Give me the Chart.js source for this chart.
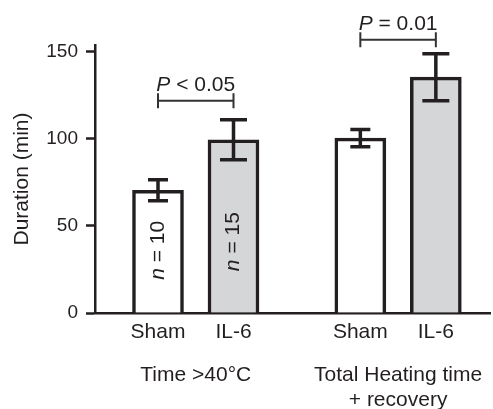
<!DOCTYPE html>
<html>
<head>
<meta charset="utf-8">
<script src="https://cdn.jsdelivr.net/npm/chart.js@4.4.1/dist/chart.umd.min.js"></script>
<style>
  html, body { margin: 0; padding: 0; background: #fff; }
</style>
</head>
<body>
<canvas id="myChart" width="493" height="409"></canvas>
<script>
/* data */
const groups = [['Time >40°C'], ['Total Heating time', '+ recovery']];
const treatments = ['Sham', 'IL-6'];
const shamMeans = [70.5, 100.5];
const shamErrors = [6, 5];
const il6Means = [99.5, 135.5];
const il6Errors = [11.5, 13.5];
const groupSizes = [['10', '15'], null]; // n per bar, only shown in first group
const pLabels = ['< 0.05', '= 0.01'];
const pBracketAt = [122, 157];
const yTicks = [0, 50, 100, 150];

/* layout */
const INK = '#231f20';
const FONT = '"Liberation Sans", Arial, sans-serif';
const groupStride = 2.68;
const capWidths = [20, 27];
const nLabelY = [36, 41];

function pos(g, j) {
  return g * groupStride + j;
}

const allPositions = [];
groups.forEach(function (_, g) {
  treatments.forEach(function (_, j) { allPositions.push(pos(g, j)); });
});

// draws "italic + rest" centred on 0
function mixedText(ctx, lead, rest, size, cx, cy) {
  const it = 'italic ' + size + 'px ' + FONT;
  const rm = size + 'px ' + FONT;
  ctx.textAlign = 'left';
  ctx.font = it;
  const w1 = ctx.measureText(lead).width;
  ctx.font = rm;
  const w2 = ctx.measureText(rest).width;
  const start = cx - (w1 + w2) / 2;
  ctx.font = it;
  ctx.fillText(lead, start, cy);
  ctx.font = rm;
  ctx.fillText(rest, start + w1, cy);
}

// error bars, n labels, p brackets, group labels
const extras = {
  id: 'extras',
  afterDatasetsDraw(chart) {
    const ctx = chart.ctx;
    const y = chart.scales.y;
    const x = chart.scales.x;
    const errs = [shamErrors, il6Errors];
    const means = [shamMeans, il6Means];

    ctx.save();
    ctx.strokeStyle = INK;
    ctx.fillStyle = INK;

    // error bars
    chart.data.datasets.forEach(function (ds, j) {
      const meta = chart.getDatasetMeta(j);
      meta.data.forEach(function (bar, g) {
        const top = y.getPixelForValue(means[j][g] + errs[j][g]);
        const bot = y.getPixelForValue(means[j][g] - errs[j][g]);
        const half = capWidths[j] / 2;
        ctx.lineWidth = 3.5;
        ctx.beginPath();
        ctx.moveTo(bar.x, top); ctx.lineTo(bar.x, bot);
        ctx.moveTo(bar.x - half, top); ctx.lineTo(bar.x + half, top);
        ctx.moveTo(bar.x - half, bot); ctx.lineTo(bar.x + half, bot);
        ctx.stroke();

        // n = .. inside the bar
        const sizes = groupSizes[g];
        if (sizes) {
          ctx.save();
          ctx.translate(bar.x, y.getPixelForValue(nLabelY[j]));
          ctx.rotate(-Math.PI / 2);
          ctx.textBaseline = 'middle';
          mixedText(ctx, 'n', ' = ' + sizes[j], 21, 0, 0);
          ctx.restore();
        }
      });
    });

    // significance brackets
    pLabels.forEach(function (label, g) {
      const x0 = x.getPixelForValue(pos(g, 0));
      const x1 = x.getPixelForValue(pos(g, 1));
      const by = y.getPixelForValue(pBracketAt[g]);
      ctx.strokeStyle = '#333';
      ctx.lineWidth = 2;
      ctx.beginPath();
      ctx.moveTo(x0, by - 7.5); ctx.lineTo(x0, by + 7.5);
      ctx.moveTo(x1, by - 7.5); ctx.lineTo(x1, by + 7.5);
      ctx.moveTo(x0, by); ctx.lineTo(x1, by);
      ctx.stroke();

      ctx.textBaseline = 'alphabetic';
      mixedText(ctx, 'P', ' ' + label, 21, (x0 + x1) / 2, by - 10);
    });

    // group labels under the axis
    ctx.fillStyle = INK;
    ctx.font = '21px ' + FONT;
    ctx.textAlign = 'center';
    ctx.textBaseline = 'middle';
    groups.forEach(function (lines, g) {
      const cx = (x.getPixelForValue(pos(g, 0)) + x.getPixelForValue(pos(g, 1))) / 2;
      lines.forEach(function (line, k) {
        ctx.fillText(line, cx, 375 + k * 25);
      });
    });
    ctx.restore();
  }
};

const ctx = document.getElementById('myChart').getContext('2d');

const chart = new Chart(ctx, {
  type: 'bar',
  data: {
    datasets: [{
      label: treatments[0],
      data: shamMeans.map(function (v, g) { return { x: pos(g, 0), y: v }; }),
      backgroundColor: '#ffffff',
      borderColor: INK,
      borderWidth: 3.5,
    },
    {
      label: treatments[1],
      data: il6Means.map(function (v, g) { return { x: pos(g, 1), y: v }; }),
      backgroundColor: '#d5d6d8',
      borderColor: INK,
      borderWidth: 3.5,
    }]
  },
  options: {
    responsive: false,
    animation: false,
    devicePixelRatio: 1,
    grouped: false,
    barThickness: 51,
    layout: { padding: { top: 45, right: 3, left: 0, bottom: 0 } },
    plugins: {
      legend: { display: false },
      tooltip: { enabled: false },
    },
    scales: {
      x: {
        type: 'linear',
        min: (95 - 158) / 75.5,
        max: (490 - 158) / 75.5,
        offset: false,
        afterFit(s) { s.height = 96; },
        afterBuildTicks(s) {
          s.ticks = allPositions.map(function (v) { return { value: v }; });
        },
        grid: { display: false, drawTicks: false },
        border: { display: true, color: INK, width: 2.5 },
        ticks: {
          autoSkip: false,
          maxRotation: 0,
          padding: 7,
          color: INK,
          font: { family: FONT, size: 21 },
          callback: function (v, i) { return treatments[i % treatments.length]; },
        },
      },
      y: {
        min: 0,
        max: 154,
        afterFit(s) { s.width = 95; },
        afterBuildTicks(s) {
          s.ticks = yTicks.map(function (v) { return { value: v }; });
        },
        grid: {
          drawOnChartArea: false,
          drawTicks: true,
          tickLength: 9,
          tickWidth: 2.5,
          tickColor: INK,
        },
        border: { display: true, color: INK, width: 2.5 },
        ticks: {
          padding: 8,
          color: INK,
          font: { family: FONT, size: 19 },
        },
        title: {
          display: true,
          text: 'Duration (min)',
          color: INK,
          font: { family: FONT, size: 21 },
          padding: { top: 10, bottom: 0 },
        },
      },
    },
  },
  plugins: [extras],
});
</script>
</body>
</html>
